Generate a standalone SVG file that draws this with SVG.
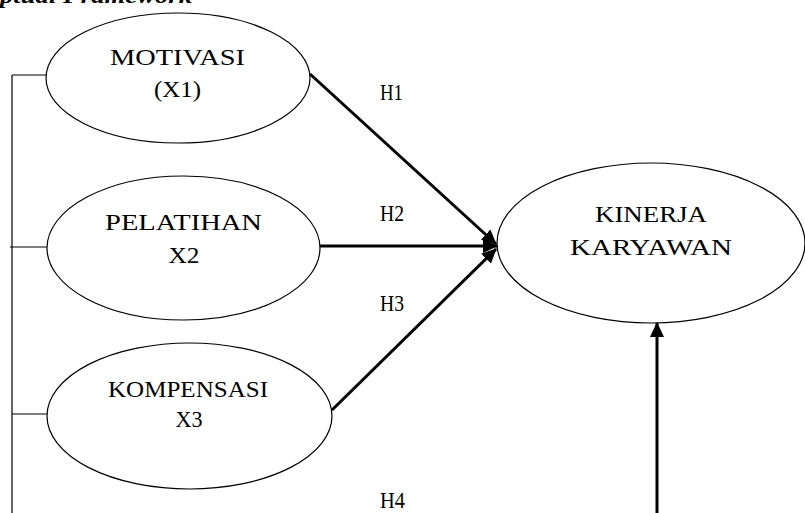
<svg xmlns="http://www.w3.org/2000/svg" width="805" height="513" viewBox="0 0 805 513">
<style>
.bg{fill:#fff}
.node ellipse{fill:#fff;stroke:#000;stroke-width:1.2}
.t{font-family:"Liberation Serif","Times New Roman",serif;font-size:24px;fill:#000;text-anchor:middle}
.h{font-family:"Liberation Serif","Times New Roman",serif;font-size:23px;fill:#000}
.title{font-family:"Liberation Serif","Times New Roman",serif;font-size:22px;font-style:italic;font-weight:bold;fill:#000}
.bracket{fill:none;stroke:#000;stroke-width:1.2}
.conn{fill:none;stroke:#000;stroke-width:3}
</style>
<defs>
<marker id="ah" markerUnits="userSpaceOnUse" markerWidth="16" markerHeight="14" refX="14" refY="7" orient="auto">
<path d="M0,0 L15,7 L0,14 Z" fill="#000"/>
</marker>
</defs>
<rect class="bg" x="0" y="0" width="805" height="513"/>
<text class="title" x="0" y="3" textLength="192" lengthAdjust="spacingAndGlyphs">ptual Framework</text>

<g id="bracket">
<path class="bracket" d="M12,75 H46 M12,75 V513 M10,247 H47 M12,414 H47"/>
</g>

<g id="connectors">
<line class="conn" x1="310" y1="74" x2="496" y2="244" marker-end="url(#ah)"/>
<line class="conn" x1="320" y1="246" x2="497" y2="246" marker-end="url(#ah)"/>
<line class="conn" x1="332" y1="410" x2="496" y2="249" marker-end="url(#ah)"/>
<line class="conn" x1="657" y1="513" x2="657" y2="323" stroke-width="2.5" marker-end="url(#ah)"/>
</g>

<g id="motivasi" class="node">
<ellipse cx="178" cy="78" rx="132" ry="65"/>
<text class="t" x="177.5" y="65" textLength="135" lengthAdjust="spacingAndGlyphs">MOTIVASI</text>
<text class="t" x="177.5" y="97" textLength="47" lengthAdjust="spacingAndGlyphs">(X1)</text>
</g>

<g id="pelatihan" class="node">
<ellipse cx="183.5" cy="248" rx="136.5" ry="72"/>
<text class="t" x="183.5" y="230" textLength="157" lengthAdjust="spacingAndGlyphs">PELATIHAN</text>
<text class="t" x="184" y="263" textLength="31" lengthAdjust="spacingAndGlyphs">X2</text>
</g>

<g id="kompensasi" class="node">
<ellipse cx="189.5" cy="416" rx="142.5" ry="73"/>
<text class="t" x="188" y="397" textLength="160" lengthAdjust="spacingAndGlyphs">KOMPENSASI</text>
<text class="t" x="189" y="427" textLength="27" lengthAdjust="spacingAndGlyphs">X3</text>
</g>

<g id="kinerja" class="node">
<ellipse cx="651" cy="243" rx="154" ry="80"/>
<text class="t" x="651" y="222" textLength="112" lengthAdjust="spacingAndGlyphs">KINERJA</text>
<text class="t" x="651" y="255" textLength="162" lengthAdjust="spacingAndGlyphs">KARYAWAN</text>
</g>

<g id="labels">
<text class="h" x="380" y="100" textLength="23" lengthAdjust="spacingAndGlyphs">H1</text>
<text class="h" x="380" y="221" textLength="24" lengthAdjust="spacingAndGlyphs">H2</text>
<text class="h" x="380" y="311" textLength="24" lengthAdjust="spacingAndGlyphs">H3</text>
<text class="h" x="380" y="508" textLength="25" lengthAdjust="spacingAndGlyphs">H4</text>
</g>
</svg>
